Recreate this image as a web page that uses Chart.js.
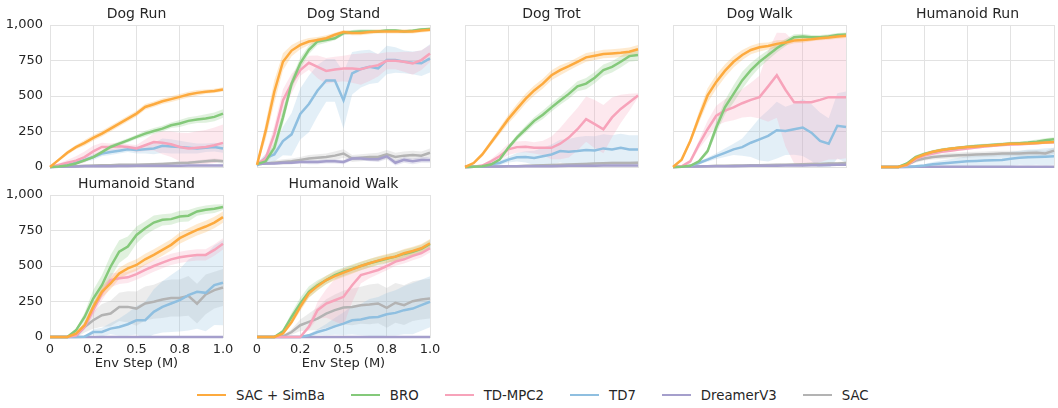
<!DOCTYPE html>
<html lang="en">
<head>
<meta charset="UTF-8">
<title>Dog / Humanoid learning curves</title>
<script src="https://cdn.jsdelivr.net/npm/chart.js"></script>
<style>
  body { margin: 0; background: #fff; font-family: "DejaVu Sans", sans-serif; color: #262626; }
  #wrap { position: relative; width: 1058px; height: 408px; overflow: hidden; }
  .panel { position: absolute; }
  .legend { position: absolute; top: 386px; left: 197px; display: flex; align-items: center; font-size: 13.3px; height: 18px; }
  .legend .item { display: flex; align-items: center; margin-right: 26px; }
  .legend .swatch { width: 29px; height: 2.5px; margin-right: 10px; }
</style>
</head>
<body>
<div id="wrap">
  <div class="legend" id="legend"></div>
</div>

<script>
// x positions (M env steps) and tick text
const xSteps = [0, 0.05, 0.1, 0.15, 0.2, 0.25, 0.3, 0.35, 0.4, 0.45, 0.5, 0.55, 0.6, 0.65, 0.7, 0.75, 0.8, 0.85, 0.9, 0.95, 1.0];
const xTickLabels = ['0', '0.2', '0.5', '0.8', '1.0'];
const yTickLabels = ['0', '250', '500', '750', '1,000'];

const seriesNames = ['SAC + SimBa', 'BRO', 'TD-MPC2', 'TD7', 'DreamerV3', 'SAC'];
const seriesColors = ['#fdaa3e', '#84c97a', '#f7a3ba', '#8fbfe0', '#a59fcc', '#b3b3b3'];

// ---- Dog Run ----
const dogRunSimba   = [0, 50, 100, 140, 170, 205, 235, 270, 305, 341, 376, 423, 442, 463, 478, 494, 510, 522, 530, 536, 546];
const dogRunBro     = [0, 3, 10, 25, 47, 70, 105, 141, 165, 188, 212, 235, 254, 270, 294, 306, 325, 334, 341, 353, 376];
const dogRunTdmpc   = [0, 15, 30, 45, 70, 110, 141, 141, 146, 141, 130, 153, 176, 170, 160, 141, 130, 136, 141, 153, 170];
const dogRunTd7     = [0, 5, 15, 30, 50, 70, 95, 105, 115, 125, 120, 125, 130, 150, 145, 140, 135, 130, 135, 140, 130];
const dogRunDreamer = [0, 2, 3, 4, 5, 5, 6, 6, 7, 7, 8, 8, 8, 9, 9, 9, 10, 10, 10, 10, 10];
const dogRunSac     = [0, 2, 4, 6, 8, 10, 12, 13, 15, 15, 15, 18, 20, 22, 25, 28, 30, 35, 40, 45, 40];
const dogRunSimbaSd   = [0, 10, 15, 15, 20, 20, 20, 20, 20, 20, 20, 20, 20, 20, 20, 20, 20, 20, 15, 15, 15];
const dogRunBroSd     = [0, 3, 5, 8, 10, 10, 12, 15, 15, 15, 15, 20, 20, 20, 20, 25, 25, 25, 30, 30, 30];
const dogRunTdmpcSd   = [0, 10, 20, 30, 40, 40, 30, 25, 25, 20, 25, 40, 60, 80, 90, 100, 110, 115, 120, 125, 130];
const dogRunTd7Sd     = [0, 3, 5, 10, 15, 20, 20, 20, 20, 20, 25, 30, 40, 50, 50, 45, 40, 35, 30, 30, 30];
const dogRunDreamerSd = [0, 2, 2, 3, 3, 3, 4, 4, 4, 4, 5, 5, 5, 5, 5, 5, 5, 5, 5, 5, 5];
const dogRunSacSd     = [0, 2, 3, 4, 5, 6, 6, 7, 8, 8, 8, 9, 10, 10, 10, 12, 12, 12, 14, 15, 15];

// ---- Dog Stand ----
const dogStandSimba   = [15, 254, 530, 741, 820, 860, 884, 895, 907, 931, 950, 943, 943, 950, 955, 955, 955, 955, 955, 962, 967];
const dogStandBro     = [20, 40, 135, 350, 587, 730, 825, 884, 895, 907, 943, 950, 955, 955, 955, 962, 962, 955, 960, 968, 971];
const dogStandTdmpc   = [20, 60, 230, 468, 587, 682, 734, 705, 677, 686, 694, 694, 689, 705, 717, 748, 748, 741, 729, 753, 800];
const dogStandTd7     = [10, 64, 88, 183, 230, 373, 444, 539, 610, 610, 470, 660, 690, 705, 694, 753, 753, 741, 734, 730, 765];
const dogStandDreamer = [20, 25, 25, 30, 30, 35, 35, 35, 40, 40, 35, 60, 60, 55, 55, 75, 30, 50, 40, 50, 50];
const dogStandSac     = [20, 25, 30, 35, 40, 50, 60, 65, 70, 80, 95, 60, 65, 70, 70, 90, 70, 80, 85, 80, 100];
const dogStandSimbaSd   = [10, 60, 80, 60, 40, 30, 25, 20, 20, 15, 15, 15, 15, 15, 15, 15, 15, 15, 15, 15, 15];
const dogStandBroSd     = [10, 20, 40, 50, 40, 40, 30, 25, 20, 15, 15, 15, 15, 15, 10, 10, 10, 10, 10, 10, 10];
const dogStandTdmpcSd   = [10, 30, 60, 80, 70, 40, 50, 80, 90, 90, 90, 100, 110, 100, 80, 60, 60, 70, 80, 70, 60];
const dogStandTd7Sd     = [10, 30, 50, 100, 150, 180, 200, 180, 150, 150, 200, 150, 130, 120, 100, 100, 90, 80, 80, 90, 100];
const dogStandDreamerSd = [5, 5, 10, 10, 10, 10, 15, 15, 15, 15, 15, 15, 15, 15, 20, 20, 20, 20, 20, 20, 20];
const dogStandSacSd     = [10, 10, 15, 20, 20, 20, 25, 25, 25, 30, 30, 25, 25, 25, 30, 30, 30, 30, 30, 30, 30];

// ---- Dog Trot ----
const dogTrotSimba   = [0, 28, 88, 171, 254, 337, 409, 480, 539, 587, 646, 682, 710, 741, 772, 784, 796, 800, 805, 812, 829];
const dogTrotBro     = [0, 2, 5, 17, 52, 135, 207, 266, 325, 368, 420, 468, 515, 568, 587, 629, 682, 705, 741, 781, 788];
const dogTrotTdmpc   = [0, 2, 10, 40, 76, 124, 140, 143, 135, 135, 135, 164, 207, 266, 337, 302, 266, 349, 409, 456, 504];
const dogTrotTd7     = [0, 2, 5, 20, 28, 52, 69, 71, 64, 76, 88, 112, 107, 112, 119, 116, 131, 124, 135, 124, 124];
const dogTrotDreamer = [0, 1, 2, 3, 4, 5, 5, 5, 6, 6, 6, 7, 8, 8, 9, 9, 10, 10, 10, 10, 10];
const dogTrotSac     = [0, 1, 2, 3, 4, 5, 6, 8, 10, 12, 14, 16, 18, 20, 22, 24, 26, 28, 28, 28, 30];
const dogTrotSimbaSd   = [0, 10, 15, 20, 25, 30, 35, 35, 35, 35, 35, 35, 30, 30, 30, 30, 30, 30, 30, 30, 30];
const dogTrotBroSd     = [0, 2, 3, 5, 10, 15, 20, 25, 25, 30, 30, 30, 35, 35, 40, 40, 40, 40, 40, 40, 40];
const dogTrotTdmpcSd   = [0, 2, 5, 15, 30, 40, 40, 40, 40, 50, 80, 110, 140, 150, 160, 170, 170, 140, 100, 60, 15];
const dogTrotTd7Sd     = [0, 2, 5, 10, 15, 20, 30, 40, 50, 60, 70, 80, 90, 100, 100, 100, 100, 100, 100, 100, 100];
const dogTrotDreamerSd = [0, 1, 2, 2, 3, 3, 3, 4, 4, 4, 5, 5, 5, 5, 5, 5, 5, 5, 5, 5, 5];
const dogTrotSacSd     = [0, 1, 2, 3, 4, 5, 5, 6, 6, 7, 8, 8, 9, 10, 10, 10, 10, 10, 10, 10, 10];

// ---- Dog Walk ----
const dogWalkSimba   = [0, 52, 183, 349, 504, 599, 677, 741, 789, 824, 843, 852, 867, 876, 891, 895, 900, 907, 912, 919, 924];
const dogWalkBro     = [0, 2, 8, 40, 112, 278, 420, 515, 610, 682, 741, 789, 836, 876, 914, 919, 914, 914, 919, 929, 933];
const dogWalkTdmpc   = [0, 5, 40, 159, 266, 361, 397, 420, 449, 473, 492, 568, 646, 544, 456, 456, 456, 473, 492, 492, 492];
const dogWalkTd7     = [0, 3, 8, 28, 52, 76, 100, 124, 140, 171, 195, 219, 259, 254, 266, 278, 242, 183, 164, 290, 281];
const dogWalkDreamer = [0, 2, 3, 4, 5, 5, 6, 6, 7, 8, 8, 9, 9, 10, 10, 10, 12, 12, 14, 15, 15];
const dogWalkSac     = [0, 2, 4, 5, 6, 8, 8, 10, 10, 12, 12, 14, 15, 16, 18, 20, 22, 22, 24, 25, 28];
const dogWalkSimbaSd   = [0, 10, 20, 40, 50, 50, 45, 40, 35, 30, 30, 25, 25, 20, 20, 20, 15, 15, 15, 15, 15];
const dogWalkBroSd     = [0, 2, 5, 10, 20, 40, 50, 60, 60, 50, 40, 35, 30, 25, 20, 20, 15, 15, 15, 15, 15];
const dogWalkTdmpcSd   = [0, 5, 15, 30, 60, 70, 80, 90, 100, 120, 150, 250, 300, 400, 430, 440, 440, 440, 440, 440, 430];
const dogWalkTd7Sd     = [0, 2, 5, 10, 15, 20, 30, 40, 60, 100, 150, 180, 200, 170, 180, 200, 200, 200, 180, 230, 250];
const dogWalkDreamerSd = [0, 2, 2, 3, 3, 3, 4, 4, 4, 5, 5, 5, 5, 6, 6, 6, 6, 6, 6, 6, 6];
const dogWalkSacSd     = [0, 2, 3, 3, 4, 4, 5, 5, 6, 6, 6, 7, 7, 8, 8, 8, 9, 9, 10, 10, 10];

// ---- Humanoid Run ----
const humRunSimba   = [0, 0, 0, 17, 64, 88, 107, 119, 128, 135, 140, 145, 150, 154, 159, 164, 164, 166, 169, 173, 176];
const humRunBro     = [0, 0, 0, 25, 70, 92, 108, 120, 128, 135, 142, 148, 152, 156, 160, 165, 168, 172, 178, 188, 195];
const humRunTdmpc   = [0, 0, 0, 12, 55, 80, 95, 107, 115, 123, 130, 138, 145, 150, 155, 158, 160, 164, 168, 172, 175];
const humRunTd7     = [0, 0, 0, 2, 5, 10, 20, 25, 30, 35, 40, 42, 45, 48, 50, 58, 65, 68, 70, 72, 75];
const humRunDreamer = [0, 0, 0, 0, 1, 1, 1, 1, 1, 1, 1, 1, 1, 1, 1, 1, 1, 1, 1, 1, 1];
const humRunSac     = [0, 0, 0, 15, 45, 60, 70, 75, 80, 82, 85, 88, 90, 92, 95, 95, 95, 98, 100, 95, 115];
const humRunSimbaSd   = [0, 0, 0, 5, 10, 10, 10, 10, 10, 10, 10, 10, 10, 10, 10, 10, 10, 10, 10, 10, 10];
const humRunBroSd     = [0, 0, 0, 8, 12, 12, 12, 12, 12, 12, 12, 12, 12, 12, 12, 12, 12, 12, 15, 15, 15];
const humRunTdmpcSd   = [0, 0, 0, 5, 10, 10, 10, 10, 10, 10, 10, 10, 10, 10, 10, 10, 10, 10, 10, 10, 10];
const humRunTd7Sd     = [0, 0, 0, 2, 5, 10, 15, 20, 25, 30, 35, 40, 40, 45, 45, 50, 50, 55, 55, 60, 60];
const humRunDreamerSd = [0, 0, 0, 0, 1, 1, 1, 1, 1, 1, 1, 1, 1, 1, 1, 1, 1, 1, 1, 1, 1];
const humRunSacSd     = [0, 0, 0, 8, 15, 15, 18, 18, 20, 20, 20, 20, 20, 20, 20, 20, 20, 20, 20, 20, 22];

// ---- Humanoid Stand ----
const humStandSimba   = [0, 0, 0, 24, 83, 212, 318, 377, 448, 483, 507, 547, 578, 613, 649, 696, 726, 755, 778, 806, 844];
const humStandBro     = [0, 0, 0, 47, 141, 271, 365, 495, 601, 637, 719, 766, 806, 825, 830, 849, 854, 884, 896, 903, 915];
const humStandTdmpc   = [0, 0, 0, 10, 71, 189, 307, 401, 413, 420, 443, 472, 500, 524, 547, 561, 571, 578, 578, 613, 656];
const humStandTd7     = [0, 0, 0, 0, 2, 35, 35, 59, 71, 90, 118, 118, 177, 212, 236, 259, 295, 318, 311, 365, 382];
const humStandDreamer = [0, 0, 0, 0, 0, 0, 0, 0, 0, 0, 0, 0, 0, 0, 0, 0, 0, 0, 0, 0, 0];
const humStandSac     = [0, 0, 0, 5, 71, 118, 153, 165, 212, 212, 200, 236, 248, 264, 275, 275, 290, 235, 300, 330, 349];
const humStandSimbaSd   = [0, 0, 0, 10, 20, 30, 40, 40, 40, 40, 40, 40, 40, 40, 40, 40, 40, 40, 40, 40, 40];
const humStandBroSd     = [0, 0, 0, 10, 30, 60, 70, 80, 80, 70, 60, 50, 50, 40, 40, 40, 40, 30, 30, 30, 20];
const humStandTdmpcSd   = [0, 0, 0, 5, 20, 40, 50, 50, 40, 40, 40, 40, 40, 40, 40, 40, 40, 40, 40, 40, 40];
const humStandTd7Sd     = [0, 0, 0, 0, 5, 20, 30, 40, 60, 80, 100, 130, 160, 180, 200, 220, 250, 260, 270, 280, 300];
const humStandDreamerSd = [0, 0, 0, 0, 0, 0, 0, 0, 0, 0, 0, 0, 0, 0, 0, 0, 0, 0, 0, 0, 0];
const humStandSacSd     = [0, 0, 0, 10, 40, 60, 80, 90, 100, 110, 120, 120, 120, 130, 130, 130, 140, 140, 140, 130, 130];

// ---- Humanoid Walk ----
const humWalkSimba   = [0, 0, 0, 24, 106, 212, 307, 358, 401, 429, 453, 476, 500, 519, 538, 554, 566, 590, 606, 625, 660];
const humWalkBro     = [0, 0, 0, 40, 141, 236, 318, 365, 401, 436, 460, 480, 500, 519, 535, 550, 566, 585, 600, 620, 655];
const humWalkTdmpc   = [0, 0, 0, 0, 0, 0, 71, 189, 236, 259, 283, 365, 436, 453, 472, 500, 531, 547, 571, 590, 625];
const humWalkTd7     = [0, 0, 0, 0, 0, 0, 12, 35, 52, 75, 94, 118, 123, 137, 141, 160, 170, 189, 200, 224, 248];
const humWalkDreamer = [0, 0, 0, 0, 0, 0, 0, 0, 0, 0, 0, 0, 0, 0, 0, 0, 0, 0, 0, 0, 0];
const humWalkSac     = [0, 0, 0, 5, 35, 83, 106, 130, 165, 189, 208, 212, 224, 229, 236, 205, 241, 224, 252, 264, 271];
const humWalkSimbaSd   = [0, 0, 0, 10, 20, 30, 30, 30, 30, 30, 30, 30, 30, 30, 30, 30, 30, 30, 30, 30, 30];
const humWalkBroSd     = [0, 0, 0, 15, 30, 40, 40, 35, 30, 30, 30, 30, 30, 30, 30, 30, 30, 30, 30, 30, 30];
const humWalkTdmpcSd   = [0, 0, 0, 0, 0, 0, 20, 60, 100, 150, 200, 120, 60, 40, 30, 30, 30, 30, 30, 30, 30];
const humWalkTd7Sd     = [0, 0, 0, 0, 0, 0, 10, 20, 40, 60, 80, 100, 110, 130, 140, 150, 160, 170, 180, 180, 180];
const humWalkDreamerSd = [0, 0, 0, 0, 0, 0, 0, 0, 0, 0, 0, 0, 0, 0, 0, 0, 0, 0, 0, 0, 0];
const humWalkSacSd     = [0, 0, 0, 5, 20, 40, 60, 80, 100, 110, 120, 130, 130, 140, 140, 140, 140, 140, 140, 140, 140];

// panels: title, means, spreads, grid slot
const panels = [
  { title: 'Dog Run', row: 0, col: 0,
    mean: [dogRunSimba, dogRunBro, dogRunTdmpc, dogRunTd7, dogRunDreamer, dogRunSac],
    sd: [dogRunSimbaSd, dogRunBroSd, dogRunTdmpcSd, dogRunTd7Sd, dogRunDreamerSd, dogRunSacSd] },
  { title: 'Dog Stand', row: 0, col: 1,
    mean: [dogStandSimba, dogStandBro, dogStandTdmpc, dogStandTd7, dogStandDreamer, dogStandSac],
    sd: [dogStandSimbaSd, dogStandBroSd, dogStandTdmpcSd, dogStandTd7Sd, dogStandDreamerSd, dogStandSacSd] },
  { title: 'Dog Trot', row: 0, col: 2,
    mean: [dogTrotSimba, dogTrotBro, dogTrotTdmpc, dogTrotTd7, dogTrotDreamer, dogTrotSac],
    sd: [dogTrotSimbaSd, dogTrotBroSd, dogTrotTdmpcSd, dogTrotTd7Sd, dogTrotDreamerSd, dogTrotSacSd] },
  { title: 'Dog Walk', row: 0, col: 3,
    mean: [dogWalkSimba, dogWalkBro, dogWalkTdmpc, dogWalkTd7, dogWalkDreamer, dogWalkSac],
    sd: [dogWalkSimbaSd, dogWalkBroSd, dogWalkTdmpcSd, dogWalkTd7Sd, dogWalkDreamerSd, dogWalkSacSd] },
  { title: 'Humanoid Run', row: 0, col: 4,
    mean: [humRunSimba, humRunBro, humRunTdmpc, humRunTd7, humRunDreamer, humRunSac],
    sd: [humRunSimbaSd, humRunBroSd, humRunTdmpcSd, humRunTd7Sd, humRunDreamerSd, humRunSacSd] },
  { title: 'Humanoid Stand', row: 1, col: 0,
    mean: [humStandSimba, humStandBro, humStandTdmpc, humStandTd7, humStandDreamer, humStandSac],
    sd: [humStandSimbaSd, humStandBroSd, humStandTdmpcSd, humStandTd7Sd, humStandDreamerSd, humStandSacSd] },
  { title: 'Humanoid Walk', row: 1, col: 1,
    mean: [humWalkSimba, humWalkBro, humWalkTdmpc, humWalkTd7, humWalkDreamer, humWalkSac],
    sd: [humWalkSimbaSd, humWalkBroSd, humWalkTdmpcSd, humWalkTd7Sd, humWalkDreamerSd, humWalkSacSd] }
];

// layout of the plot areas (px)
const PLOT_W = 173, PLOT_H = 142;
const AXIS_W = 50, TOP_PAD = 25, RIGHT_PAD = 20, BOTTOM_H = 45;
const rowTops = [25, 195];
const colLefts = [50, 257, 465, 673, 881];
const FONT = '"DejaVu Sans", sans-serif';
const TEXT = '#262626';
const GRID = '#e2e2e2';

function rgba(hex, a) {
  const n = parseInt(hex.slice(1), 16);
  return `rgba(${n >> 16}, ${(n >> 8) & 255}, ${n & 255}, ${a})`;
}

// title centred over the plot area
const panelTitle = {
  id: 'panelTitle',
  afterDraw(chart, args, opts) {
    const { ctx, chartArea } = chart;
    ctx.save();
    ctx.font = `14px ${FONT}`;
    ctx.fillStyle = TEXT;
    ctx.textAlign = 'center';
    ctx.textBaseline = 'middle';
    ctx.fillText(opts.text, (chartArea.left + chartArea.right) / 2, chartArea.top - 11);
    ctx.restore();
  }
};

const wrap = document.getElementById('wrap');

panels.forEach(p => {
  const showY = p.col === 0;
  const showX = p.row === 1;

  const holder = document.createElement('div');
  holder.className = 'panel';
  holder.style.left = (colLefts[p.col] - AXIS_W) + 'px';
  holder.style.top = (rowTops[p.row] - TOP_PAD) + 'px';
  const canvas = document.createElement('canvas');
  canvas.width = AXIS_W + PLOT_W + RIGHT_PAD;
  canvas.height = TOP_PAD + PLOT_H + BOTTOM_H;
  holder.appendChild(canvas);
  wrap.appendChild(holder);

  const bands = [];
  const lines = [];
  p.mean.forEach((m, i) => {
    const sd = p.sd[i];
    bands.push({
      data: xSteps.map((x, k) => ({ x, y: m[k] + sd[k] })),
      borderWidth: 0, pointRadius: 0, fill: false, order: 20, clip: 0
    });
    bands.push({
      data: xSteps.map((x, k) => ({ x, y: m[k] - sd[k] })),
      borderWidth: 0, pointRadius: 0, fill: '-1', order: 20, clip: 0,
      backgroundColor: rgba(seriesColors[i], 0.25)
    });
    lines.push({
      label: seriesNames[i],
      data: xSteps.map((x, k) => ({ x, y: m[k] })),
      borderColor: seriesColors[i],
      borderWidth: 2.5,
      pointRadius: 0,
      fill: false,
      tension: 0,
      order: i + 1,
      clip: 3
    });
  });

  new Chart(canvas, {
    type: 'line',
    data: { datasets: bands.concat(lines) },
    options: {
      responsive: false,
      animation: false,
      layout: { padding: { top: TOP_PAD, right: RIGHT_PAD, left: 0, bottom: 0 } },
      plugins: {
        legend: { display: false },
        tooltip: { enabled: false },
        filler: { drawTime: 'beforeDatasetsDraw' },
        panelTitle: { text: p.title }
      },
      scales: {
        x: {
          type: 'linear', min: 0, max: 1,
          afterFit: s => { s.height = BOTTOM_H; },
          grid: { color: GRID, drawTicks: false },
          border: { color: GRID },
          ticks: {
            display: showX, stepSize: 0.25, padding: 5,
            color: TEXT, font: { family: FONT, size: 13 },
            maxRotation: 0,
            callback: (v, idx) => xTickLabels[idx]
          },
          title: {
            display: showX, text: 'Env Step (M)', color: TEXT,
            font: { family: FONT, size: 13 }, padding: { top: 0, bottom: 11 }
          }
        },
        y: {
          min: 0, max: 1000,
          afterFit: s => { s.width = AXIS_W; },
          grid: { color: GRID, drawTicks: false },
          border: { color: GRID },
          ticks: {
            display: showY, stepSize: 250, padding: 7,
            color: TEXT, font: { family: FONT, size: 13 },
            callback: (v, idx) => yTickLabels[idx]
          }
        }
      }
    },
    plugins: [panelTitle]
  });
});

// legend below the panels
const legend = document.getElementById('legend');
seriesNames.forEach((name, i) => {
  const item = document.createElement('div');
  item.className = 'item';
  const sw = document.createElement('span');
  sw.className = 'swatch';
  sw.style.background = seriesColors[i];
  const label = document.createElement('span');
  label.textContent = name;
  item.appendChild(sw);
  item.appendChild(label);
  legend.appendChild(item);
});
</script>
</body>
</html>
